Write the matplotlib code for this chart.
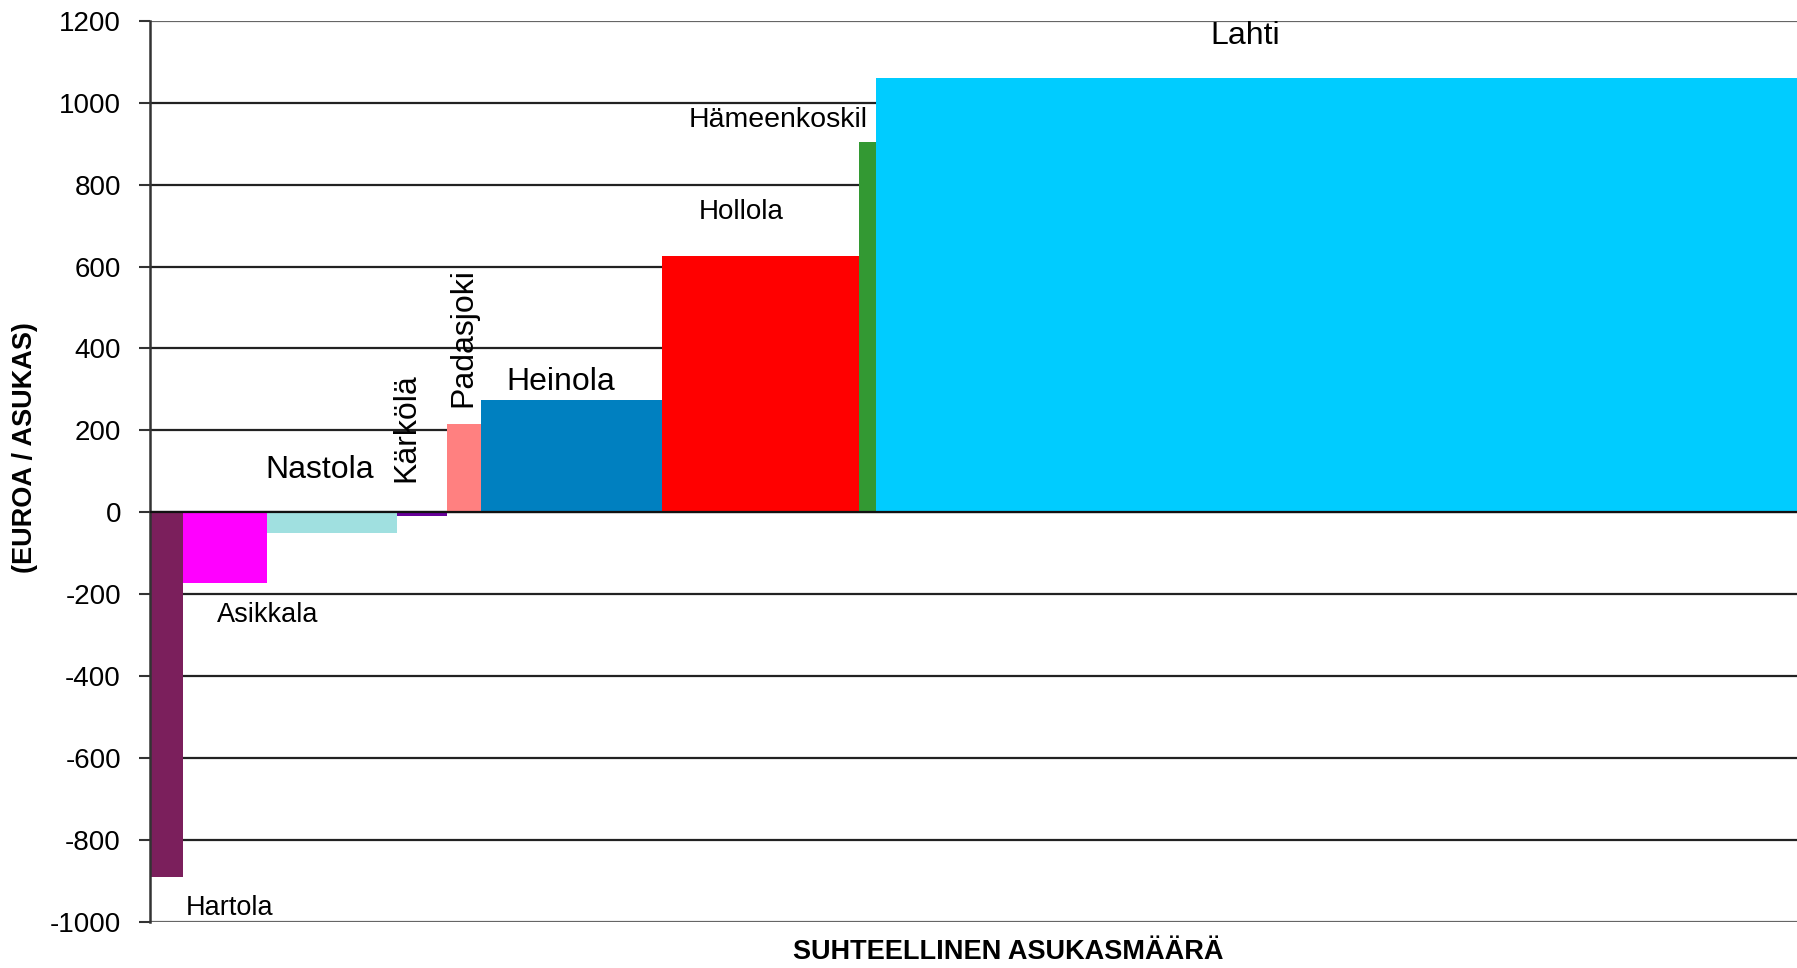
import matplotlib.pyplot as plt
import numpy as np

plt.rcParams['font.family'] = ['Liberation Sans', 'DejaVu Sans']

# kunnat, suhteellinen asukasmäärä (leveys) ja euroa / asukas (korkeus)
kunnat = ['Hartola', 'Asikkala', 'Nastola', 'Kärkölä', 'Padasjoki',
          'Heinola', 'Hollola', 'Hämeenkoski', 'Lahti']
asukkaat = [3500, 8700, 13700, 5200, 3500, 19000, 20600, 1800, 100000]
euroa = [-890, -173, -50, -10, 215, 274, 626, 905, 1061]
varit = ['#7b1f5c', '#ff00ff', '#a0e0e0', '#660099', '#ff8080',
         '#0080c0', '#ff0000', '#339933', '#00ccff']

y_ticks = np.arange(-1000, 1201, 200)

alku = np.concatenate([[0], np.cumsum(asukkaat)[:-1]])

fig = plt.figure(figsize=(17.97, 9.68), dpi=100)
ax = fig.add_axes([0.0835, 0.0473, 1 - 0.0835, 0.9787 - 0.0473])

ax.bar(alku, euroa, width=asukkaat, align='edge', color=varit,
       edgecolor='none', zorder=2)

for y in y_ticks:
    c = '#666666' if y in (1200, -1000) else '#222222'
    ax.axhline(y, color=c, lw=1.6, zorder=1)
ax.axhline(0, color='#111111', lw=1.6, zorder=3)

ax.set_ylim(-1000, 1200)
ax.set_xlim(0, 172400)
ax.set_yticks(y_ticks)
ax.set_yticklabels([str(v) for v in y_ticks], fontsize=20)
ax.set_xticks([])
ax.tick_params(axis='y', length=8, width=1.5, color='#333333', pad=13)
for s in ['top', 'right', 'bottom']:
    ax.spines[s].set_visible(False)
ax.spines['left'].set_color('#333333')
ax.spines['left'].set_linewidth(1.8)

# nimet palkkien viereen
ax.text(alku[0] + asukkaat[0] + 220, -966, 'Hartola', fontsize=19.5, va='center', ha='left')
ax.text(alku[1] + 3460, -251, 'Asikkala', fontsize=19.5, va='center', ha='left')
ax.text(alku[2] - 100, 103, 'Nastola', fontsize=23, va='center', ha='left')
ax.text(alku[3] + 980, 75, 'Kärkölä', fontsize=23, rotation=90, va='bottom', ha='center')
ax.text(alku[4] + 1740, 257, 'Padasjoki', fontsize=23, rotation=90, va='bottom', ha='center')
ax.text(alku[5] + 8400, 318, 'Heinola', fontsize=23, va='center', ha='center')
ax.text(alku[6] + 8300, 732, 'Hollola', fontsize=20, va='center', ha='center')
ax.text(alku[7] + 900, 957, 'Hämeenkoskil', fontsize=20.5, va='center', ha='right')
ax.text(alku[8] + 38600, 1162, 'Lahti', fontsize=23, va='center', ha='center')

fig.text(0.014, 0.538, '(EUROA / ASUKAS)', rotation=90, fontsize=19.5,
         fontweight='bold', va='center', ha='center')
fig.text(0.561, 0.0166, 'SUHTEELLINEN ASUKASMÄÄRÄ', fontsize=19.5,
         fontweight='bold', va='center', ha='center')

fig.savefig('out.png', dpi=100)
